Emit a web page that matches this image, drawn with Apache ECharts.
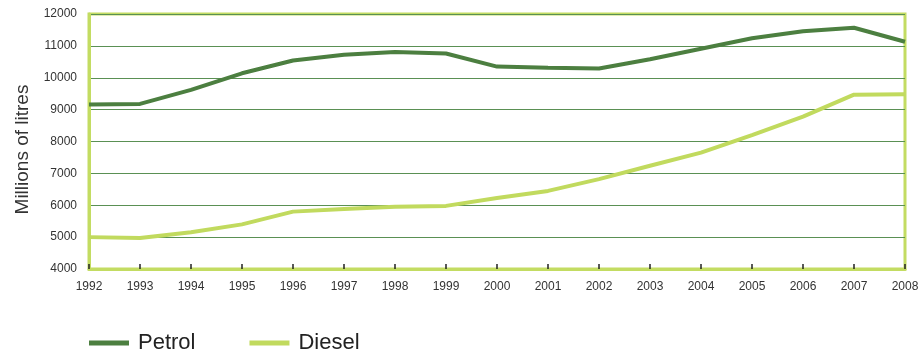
<!DOCTYPE html>
<html>
<head>
<meta charset="utf-8">
<script src="https://cdn.jsdelivr.net/npm/echarts@6/dist/echarts.min.js"></script>
<style>
  html, body { margin: 0; padding: 0; background: #fff; }
  #chart { width: 922px; height: 352px; }
</style>
</head>
<body>
<div id="chart"></div>
<script>
// Fuel sales in millions of litres, 1992-2008
const years = ['1992','1993','1994','1995','1996','1997','1998','1999','2000','2001','2002','2003','2004','2005','2006','2007','2008'];
const petrol = [9160, 9180, 9620, 10140, 10540, 10720, 10810, 10760, 10350, 10310, 10290, 10580, 10910, 11240, 11460, 11570, 11130];
const diesel = [5000, 4970, 5150, 5400, 5800, 5880, 5950, 5980, 6230, 6450, 6820, 7240, 7650, 8200, 8780, 9470, 9480];

const petrolColor = '#4c7f40';
const dieselColor = '#c1da5e';
const frameColor = '#c3dc62';
const font = 'Liberation Sans, Arial, sans-serif';

const chart = echarts.init(document.getElementById('chart'));
chart.setOption({
  animation: false,
  textStyle: { fontFamily: font },
  grid: {
    left: 89, right: 17, top: 14, bottom: 83,
    show: true, borderColor: frameColor, borderWidth: 3
  },
  legend: {
    left: 84, top: 327,
    itemWidth: 40, itemHeight: 5, itemGap: 54,
    icon: 'rect',
    textStyle: { fontSize: 22, color: '#222', fontFamily: font, padding: [0, 0, 0, 4] },
    data: [
      { name: 'Petrol', itemStyle: { color: petrolColor } },
      { name: 'Diesel', itemStyle: { color: dieselColor } }
    ]
  },
  xAxis: {
    type: 'category',
    data: years,
    boundaryGap: false,
    axisLine: { show: true, lineStyle: { color: frameColor, width: 3 } },
    axisTick: { show: true, inside: true, length: 5, lineStyle: { color: '#222', width: 1.5 } },
    axisLabel: { color: '#333', fontSize: 12, margin: 12 },
    splitLine: { show: false },
    z: 5
  },
  yAxis: {
    type: 'value',
    min: 4000, max: 12000, interval: 1000,
    name: 'Millions of litres',
    nameLocation: 'middle',
    nameGap: 52,
    nameRotate: 90,
    nameTextStyle: { fontSize: 19, color: '#333', fontFamily: font, padding: [0, 16, 0, 0] },
    axisLine: { show: true, lineStyle: { color: frameColor, width: 3 } },
    axisTick: { show: false },
    axisLabel: { color: '#333', fontSize: 12, margin: 12, formatter: v => String(v) },
    splitLine: { show: true, lineStyle: { color: '#5a9053', width: 1 } }
  },
  series: [
    {
      name: 'Petrol', type: 'line', data: petrol,
      symbol: 'none',
      lineStyle: { color: petrolColor, width: 4 },
      itemStyle: { color: petrolColor },
      z: 3
    },
    {
      name: 'Diesel', type: 'line', data: diesel,
      symbol: 'none',
      lineStyle: { color: dieselColor, width: 4 },
      itemStyle: { color: dieselColor },
      z: 3
    }
  ]
});
</script>
</body>
</html>
